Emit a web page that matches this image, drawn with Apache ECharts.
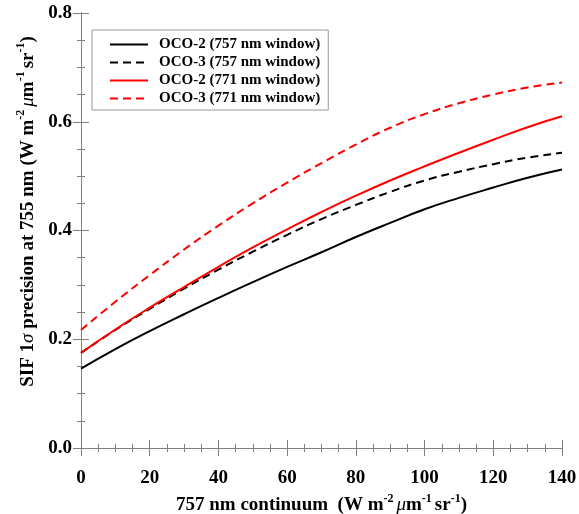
<!DOCTYPE html>
<html>
<head>
<meta charset="utf-8">
<script src="https://cdn.jsdelivr.net/npm/echarts@6/dist/echarts.min.js"></script>
<style>html,body{margin:0;padding:0;background:#fff}#c{width:579px;height:514px}</style>
</head>
<body>
<div id="c"></div>
<script>
// Continuum radiance (x)
const continuum = [0, 10, 20, 30, 40, 50, 60, 70, 80, 90, 100, 110, 120, 130, 140];
// SIF 1-sigma precision values
const oco2_757 = [0.146, 0.182, 0.215, 0.246, 0.276, 0.305, 0.333, 0.360, 0.388, 0.414, 0.439, 0.460, 0.479, 0.497, 0.512];
const oco3_757 = [0.175, 0.217, 0.256, 0.293, 0.328, 0.361, 0.392, 0.421, 0.447, 0.471, 0.492, 0.508, 0.522, 0.534, 0.543];
const oco2_771 = [0.175, 0.218, 0.258, 0.296, 0.333, 0.369, 0.402, 0.434, 0.464, 0.492, 0.518, 0.543, 0.567, 0.590, 0.610];
const oco3_771 = [0.217, 0.269, 0.318, 0.365, 0.409, 0.450, 0.488, 0.524, 0.558, 0.589, 0.614, 0.634, 0.650, 0.663, 0.672];
const seriesNames = ['OCO-2 (757 nm window)', 'OCO-3 (757 nm window)', 'OCO-2 (771 nm window)', 'OCO-3 (771 nm window)'];
const xTicks = [0, 20, 40, 60, 80, 100, 120, 140];
const yTicks = [0.0, 0.2, 0.4, 0.6, 0.8];

const FONT = 'Liberation Serif';
const axisGrey = '#808080';
const pairs = ys => continuum.map((x, i) => [x, ys[i]]);

const rich = {
  b: {fontFamily: FONT, fontWeight: 'bold', fontSize: 19, color: '#000'},
  s: {fontFamily: FONT, fontWeight: 'bold', fontSize: 12, color: '#000', padding: [0, 0, 13, 0]},
  g: {fontFamily: FONT, fontStyle: 'italic', fontSize: 19, color: '#000'}
};

const chart = echarts.init(document.getElementById('c'), null, {renderer: 'canvas'});
const baseAxis = (extra) => Object.assign({
  axisLine: {show: true, lineStyle: {color: axisGrey, width: 1}},
  axisTick: {show: true, inside: true, length: 8, lineStyle: {color: axisGrey}},
  minorTick: {show: true, splitNumber: 4, length: 4, lineStyle: {color: axisGrey}},
  splitLine: {show: false},
  minorSplitLine: {show: false}
}, extra);

chart.setOption({
  animation: false,
  backgroundColor: '#fff',
  grid: {left: 81, right: 17, top: 13, bottom: 66, containLabel: false, outerBoundsMode: 'none'},
  legend: {
    orient: 'vertical',
    left: 92, top: 30,
    width: 234,
    padding: [7, 8, 4, 17],
    itemGap: 3,
    itemWidth: 38, itemHeight: 15,
    borderColor: '#999', borderWidth: 1,
    data: seriesNames,
    itemStyle: {opacity: 0},
    textStyle: {fontFamily: FONT, fontWeight: 'bold', fontSize: 15, color: '#000', padding: [0, 0, 0, 6]}
  },
  xAxis: [
    baseAxis({
      type: 'value', min: 0, max: 140, interval: 20, position: 'bottom',
      axisLabel: {margin: 21, fontFamily: FONT, fontWeight: 'bold', fontSize: 19, color: '#000',
        formatter: v => xTicks.includes(v) ? String(v) : ''},
      name: '{b|757 nm continuum  (W m}{s|-2 }{g|μ}{b|m}{s|-1 }{b|sr}{s|-1}{b|)}',
      nameLocation: 'middle', nameGap: 36,
      nameTextStyle: {rich: rich}
    }),
    baseAxis({type: 'value', min: 0, max: 140, interval: 20, position: 'top', axisLabel: {show: false}})
  ],
  yAxis: [
    baseAxis({
      type: 'value', min: 0, max: 0.8, interval: 0.2, position: 'left',
      axisLabel: {margin: 9, fontFamily: FONT, fontWeight: 'bold', fontSize: 19, color: '#000',
        formatter: v => yTicks.some(t => Math.abs(t - v) < 1e-9) ? v.toFixed(1) : ''},
      name: '{b|SIF 1}{g|σ}{b| precision at 755 nm (W m}{s|-2 }{g|μ}{b|m}{s|-1 }{b|sr}{s|-1}{b|)}',
      nameLocation: 'middle', nameGap: 39, nameRotate: 90,
      nameTextStyle: {rich: rich, padding: [0, 0, 0, 38]}
    }),
    baseAxis({type: 'value', min: 0, max: 0.8, interval: 0.2, position: 'right', axisLabel: {show: false}})
  ],
  series: [
    {name: seriesNames[0], type: 'line', smooth: true, symbol: 'none', data: pairs(oco2_757),
      lineStyle: {color: '#000', width: 2, type: 'solid'}, itemStyle: {color: '#000'}},
    {name: seriesNames[1], type: 'line', smooth: true, symbol: 'none', data: pairs(oco3_757),
      lineStyle: {color: '#000', width: 2, type: [8, 5]}, itemStyle: {color: '#000'}},
    {name: seriesNames[2], type: 'line', smooth: true, symbol: 'none', data: pairs(oco2_771),
      lineStyle: {color: '#ff0000', width: 2, type: 'solid'}, itemStyle: {color: '#ff0000'}},
    {name: seriesNames[3], type: 'line', smooth: true, symbol: 'none', data: pairs(oco3_771),
      lineStyle: {color: '#ff0000', width: 2, type: [8, 5]}, itemStyle: {color: '#ff0000'}}
  ]
});
</script>
</body>
</html>
